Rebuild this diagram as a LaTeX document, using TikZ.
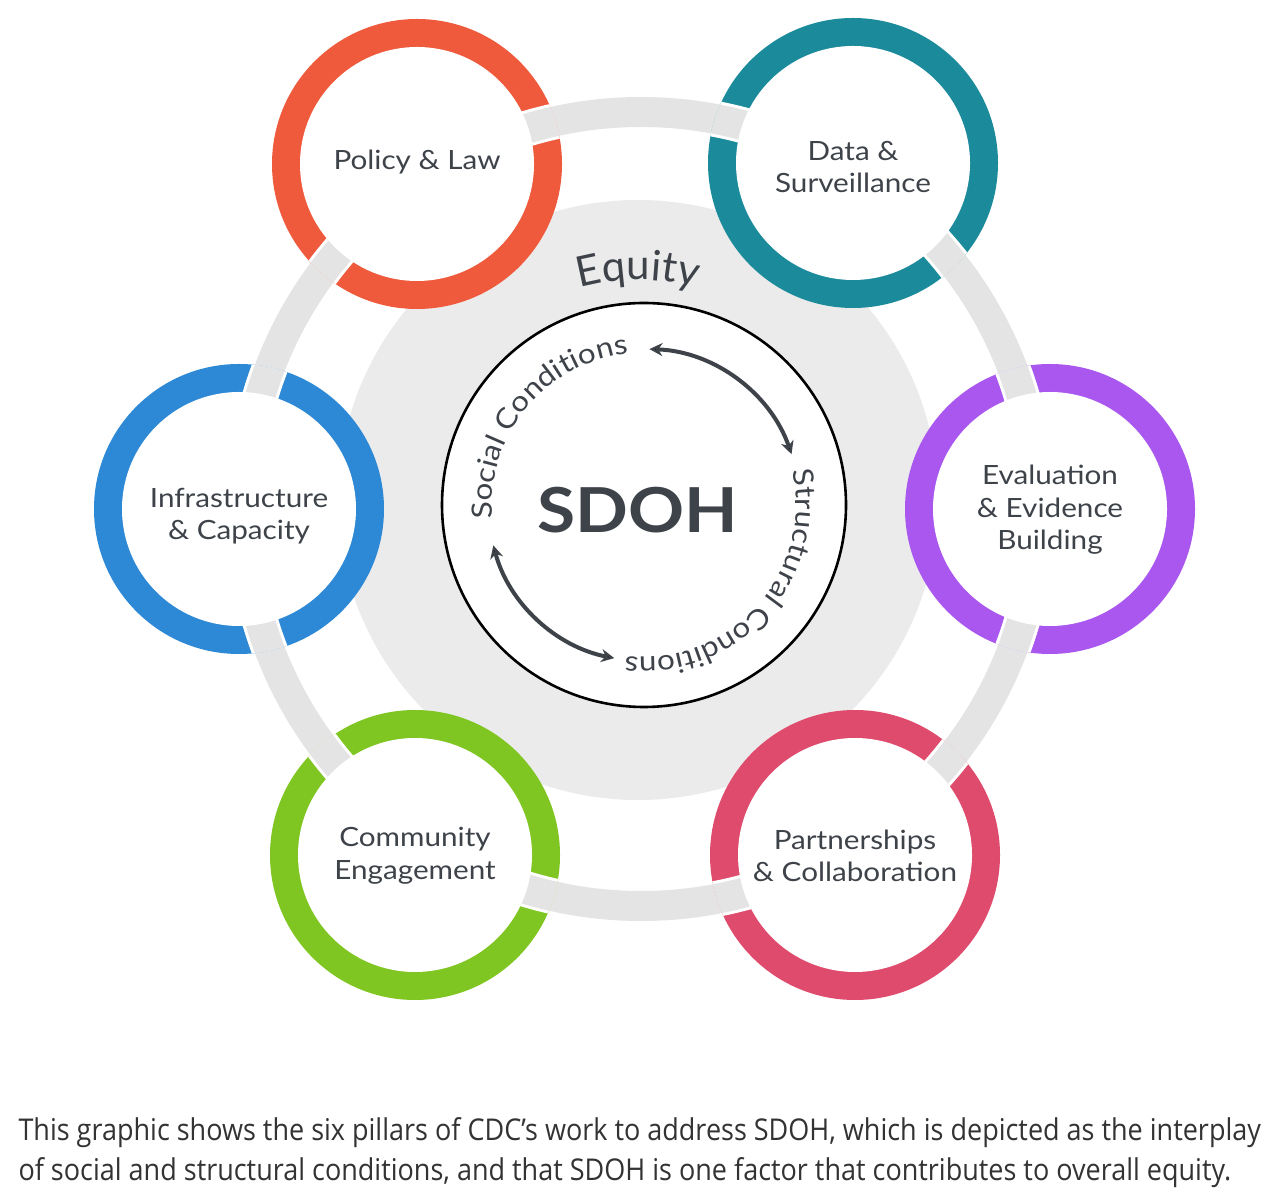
\documentclass[tikz,border=0pt]{standalone}
\usepackage{fontspec}
\setmainfont{Lato}
\newfontfamily\widefont[FakeStretch=1.12]{Lato}
\newfontfamily\capfont[FakeStretch=0.9]{Open Sans}
\usetikzlibrary{arrows.meta,decorations.text,calc}
\definecolor{polcol}{HTML}{F05A3C}
\definecolor{datcol}{HTML}{1B8B9B}
\definecolor{evacol}{HTML}{A957EE}
\definecolor{parcol}{HTML}{DF4B6C}
\definecolor{comcol}{HTML}{80C622}
\definecolor{infcol}{HTML}{2D88D5}
\definecolor{txtcol}{HTML}{3E434A}
\definecolor{disccol}{HTML}{EBEBEB}
\definecolor{bandcol}{HTML}{E4E4E4}
\begin{document}
\begin{tikzpicture}[x=1pt, y=1pt,
  pillar node/.style={align=center, text=txtcol, font=\widefont\fontsize{26.5}{32.5}\selectfont},
  ring arrow/.style={draw=txtcol, line width=4pt, {Stealth[length=13pt,width=13pt]}-{Stealth[length=13pt,width=13pt]}},
  arc text/.style={decorate, decoration={text along path, text align=center, text color=txtcol, text={#1}}}]
\fill[white] (0,0) rectangle (1284,1200);
\useasboundingbox (0,0) rectangle (1284,1200);
\coordinate (eq) at (638,700);
\coordinate (hub) at (641,691);
\coordinate (c) at (644,695);
% equity disc and the band through the pillars
\fill[disccol] (eq) circle (300);
\draw[bandcol, line width=30pt] (hub) circle (397);
% six pillar rings, cut where the band passes
\foreach \x/\y/\col in {417/1036/polcol, 853/1037/datcol, 1050/691/evacol, 855/345/parcol, 415/345/comcol, 239/691/infcol} {
  \fill[\col] (\x,\y) circle (145);
  \begin{scope}
    \clip (\x,\y) circle (145);
    \draw[white, line width=36pt] (hub) circle (397);
    \draw[bandcol, line width=30pt] (hub) circle (397);
  \end{scope}
  \fill[white] (\x,\y) circle (117);
}
\draw[black, line width=2.6pt, fill=white] (c) circle (202);
\begin{scope}[every node/.style={pillar node}]
\node (p1) at (417,1038) {Policy \& Law};
\node (p2) at (853,1033) {Data \&\\Surveillance};
\node (p3) at (1050,690) {Evaluation\\\& Evidence\\Building};
\node (p4) at (855,344) {Partnerships\\\& Collaboration};
\node (p5) at (415,344) {Community\\Engagement};
\node (p6) at (239,684) {Infrastructure\\\& Capacity};
\end{scope}
\node[text=txtcol, font=\widefont\fontsize{62}{62}\selectfont\bfseries] (sdoh) at (638,690) {SDOH};
% texts on arcs
\path[arc text={|\fontsize{42}{42}\selectfont|Equity}] ($(eq)+(125:220)$) arc[start angle=125, end angle=55, radius=220];
\path[arc text={|\widefont\fontsize{28}{28}\selectfont|Social Conditions}] ($(c)+(207:152)$) arc[start angle=207, end angle=74, radius=152];
\path[arc text={|\widefont\fontsize{28}{28}\selectfont|Structural Conditions}] ($(c)+(36:152)$) arc[start angle=36, end angle=-120, radius=152];
\draw[ring arrow] ($(c)+(88:156)$) arc[start angle=88, end angle=19, radius=156];
\draw[ring arrow] ($(c)+(195:156)$) arc[start angle=195, end angle=259, radius=156];
% caption
\node[anchor=base west, text=black!80, font=\capfont\fontsize{30}{30}\selectfont] (cap1) at (15,60) {This graphic shows the six pillars of CDC’s work to address SDOH, which is depicted as the interplay};
\node[anchor=base west, text=black!80, font=\capfont\fontsize{30}{30}\selectfont] (cap2) at (15,20) {of social and structural conditions, and that SDOH is one factor that contributes to overall equity.};
\end{tikzpicture}
\end{document}
